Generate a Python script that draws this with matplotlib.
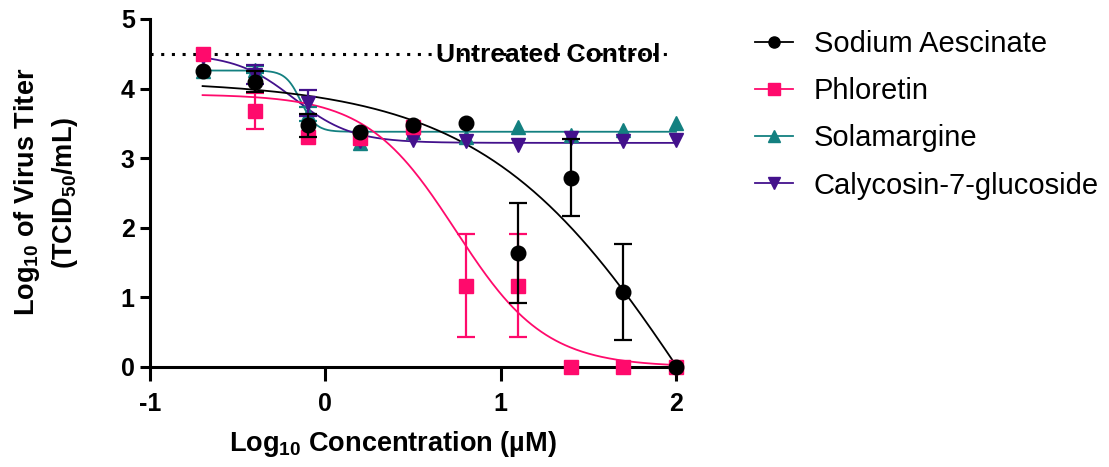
import numpy as np
import matplotlib
matplotlib.use('Agg')
import matplotlib.pyplot as plt
from matplotlib.lines import Line2D

# --- data ---
log_conc = [-0.7, -0.4, -0.1, 0.2, 0.5, 0.8, 1.1, 1.4, 1.7, 2.0]

aescinate_mean = [4.25, 4.10, 3.47, 3.38, 3.47, 3.51, 1.64, 2.72, 1.08, 0.00]
aescinate_sd = [0, 0.15, 0.16, 0, 0, 0, 0.72, 0.55, 0.69, 0]
phloretin_mean = [4.50, 3.68, 3.30, 3.29, 3.45, 1.17, 1.17, 0.00, 0.00, 0.00]
phloretin_sd = [0, 0.26, 0, 0, 0, 0.74, 0.74, 0, 0, 0]
solamargine_mean = [4.25, 4.27, 3.64, 3.22, 3.38, 3.30, 3.45, 3.33, 3.40, 3.50]
solamargine_sd = [0, 0.05, 0.10, 0, 0, 0, 0, 0, 0, 0]
calycosin_mean = [4.45, 4.20, 3.79, 3.25, 3.26, 3.25, 3.19, 3.29, 3.24, 3.26]
calycosin_sd = [0, 0.14, 0.19, 0, 0, 0, 0, 0, 0, 0]

# 4PL fit parameters: top, bottom, logEC50, hill
aescinate_fit = [4.12, -5.0, 2.123, 0.72]
phloretin_fit = [3.92, 0.0, 0.744, 1.7]
solamargine_fit = [4.26, 3.38, -0.14, 10.0]
calycosin_fit = [4.50, 3.22, -0.18, 2.6]

labels = ['Sodium Aescinate', 'Phloretin', 'Solamargine', 'Calycosin-7-glucoside']
colors = ['#000000', '#FF0A6C', '#138080', '#43118C']
markers = ['o', 's', '^', 'v']
x_ticks = [-1, 0, 1, 2]
x_tick_labels = ['-1', '0', '1', '2']
y_ticks = [0, 1, 2, 3, 4, 5]
control_level = 4.5


def four_pl(x, top, bottom, logec50, hill):
    return bottom + (top - bottom) / (1 + 10 ** ((x - logec50) * hill))


plt.rcParams['font.family'] = ['Liberation Sans', 'DejaVu Sans']
plt.rcParams['mathtext.default'] = 'regular'

fig = plt.figure(figsize=(11.09, 4.67), dpi=100)
ax = fig.add_axes([150 / 1109, 100 / 467, 526 / 1109, 348 / 467])

means = [aescinate_mean, phloretin_mean, solamargine_mean, calycosin_mean]
sds = [aescinate_sd, phloretin_sd, solamargine_sd, calycosin_sd]
fits = [aescinate_fit, phloretin_fit, solamargine_fit, calycosin_fit]
# drawing order bottom -> top
zorders = [8, 7, 5, 6]

x_fit = np.linspace(min(log_conc), max(log_conc), 300)
for i in range(4):
    x = np.array(log_conc)
    y = np.array(means[i])
    e = np.array(sds[i])
    ax.plot(x_fit, four_pl(x_fit, *fits[i]), color=colors[i], lw=1.3,
            zorder=zorders[i] - 4, clip_on=False)
    m = e > 0
    ax.errorbar(x[m], y[m], yerr=e[m], fmt='none', ecolor=colors[i],
                elinewidth=1.6, capsize=6.5, capthick=1.6,
                zorder=zorders[i] - 0.5, clip_on=False)
    ax.plot(x, y, linestyle='none', marker=markers[i], color=colors[i],
            markersize=10.5, zorder=zorders[i], clip_on=False)

# untreated control line
ax.plot([-1, 1.95], [control_level, control_level], color='black', lw=2.2,
        linestyle=(0, (1, 2.5)), zorder=1, clip_on=False)
ax.text(1.27, 4.38, 'Untreated Control', fontsize=19,
        fontweight='bold', ha='center', va='baseline', zorder=10)

ax.set_xlim(-1, 2)
ax.set_ylim(0, 5)
ax.set_xticks(x_ticks)
ax.set_xticklabels(x_tick_labels)
ax.set_yticks(y_ticks)
ax.spines['top'].set_visible(False)
ax.spines['right'].set_visible(False)
for s in ['left', 'bottom']:
    ax.spines[s].set_linewidth(2.2)
ax.tick_params(axis='x', width=2.2, length=10, labelsize=18, pad=8)
ax.tick_params(axis='y', width=2.2, length=7, labelsize=18, pad=4)
for lab in ax.get_xticklabels() + ax.get_yticklabels():
    lab.set_fontweight('bold')

# axis titles
fig.text(393 / 1109, 1 - 444 / 467, 'Log$_{10}$ Concentration (µM)',
         fontsize=19.5, fontweight='bold', ha='center', va='center')
fig.text(27 / 1109, 1 - 192 / 467, 'Log$_{10}$ of Virus Titer',
         fontsize=19.5, fontweight='bold', ha='center', va='center', rotation=90)
fig.text(65 / 1109, 1 - 193 / 467, '(TCID$_{50}$/mL)',
         fontsize=19.5, fontweight='bold', ha='center', va='center', rotation=90)

handles = [Line2D([0], [0], color=colors[i], marker=markers[i], markersize=8,
                  lw=1.3) for i in range(4)]
fig.legend(handles, labels, loc='upper left', bbox_to_anchor=(746 / 1109, 1 - 21 / 467),
           frameon=False, fontsize=21, handlelength=1.3, handletextpad=0.72,
           labelspacing=0.66, borderaxespad=0, borderpad=0.3)

fig.savefig('out.png', dpi=100)
